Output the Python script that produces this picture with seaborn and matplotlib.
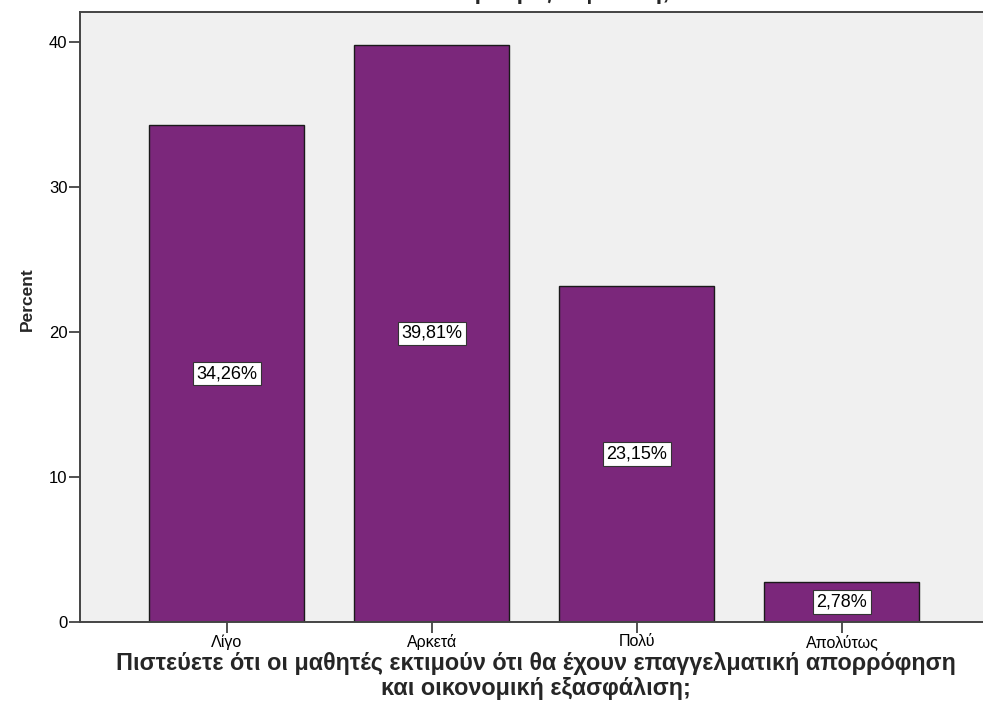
import matplotlib
matplotlib.use("Agg")
import matplotlib.pyplot as plt
import seaborn as sns
import pandas as pd

categories = ["Λίγο", "Αρκετά", "Πολύ", "Απολύτως"]
percent = [34.26, 39.81, 23.15, 2.78]
value_labels = ["34,26%", "39,81%", "23,15%", "2,78%"]
y_ticks = [0, 10, 20, 30, 40]
question = ("Πιστεύετε ότι οι μαθητές εκτιμούν ότι θα έχουν επαγγελματική απορρόφηση\n"
            "και οικονομική εξασφάλιση;")

sns.set_theme(style="white")
plt.rcParams["font.family"] = ["Liberation Sans", "DejaVu Sans"]

df = pd.DataFrame({"category": categories, "percent": percent})

fig = plt.figure(figsize=(9.83, 7.2), dpi=100)
ax = fig.add_axes([80 / 983, 1 - 622 / 720, 903 / 983, (622 - 12) / 720])
ax.set_facecolor("#F0F0F0")

sns.barplot(data=df, x="category", y="percent", order=categories,
            color="#7B277B", saturation=1, width=0.756,
            edgecolor="#1a1a1a", linewidth=1.0, ax=ax)

for i, (v, lab) in enumerate(zip(percent, value_labels)):
    ax.text(i, v / 2, lab, ha="center", va="center", fontsize=13, color="black",
            bbox=dict(boxstyle="square,pad=0.18", facecolor="white",
                      edgecolor="#333333", linewidth=0.8))

ax.set_xlim(-0.717, 3.688)
ax.set_ylim(0, (622 - 12) / 14.5)
ax.set_yticks(y_ticks)
ax.set_yticklabels([str(t) for t in y_ticks])

ax.tick_params(axis="both", which="both", direction="out", width=1.2,
               color="#333333", labelcolor="black", length=8)
ax.tick_params(axis="x", bottom=True, labelsize=11.5, pad=1)
ax.tick_params(axis="y", left=True, labelsize=12, pad=1)

for side in ["left", "bottom", "top"]:
    ax.spines[side].set_color("#444444")
    ax.spines[side].set_linewidth(1.4)
ax.spines["right"].set_visible(False)

ax.set_ylabel("Percent", fontsize=12.5, fontweight="bold")
ax.yaxis.set_label_coords(-0.0498, 0.5295)
ax.set_xlabel(question, fontsize=16.8, fontweight="bold", linespacing=1.1)
ax.xaxis.set_label_coords(0.505, -0.049)

# Chart title sits at the very top edge; only its lower part falls inside the canvas
fig.text(0.524, 1 + 1 / 720, question, ha="center", va="baseline",
         fontsize=16.8, fontweight="bold", linespacing=1.1)

fig.savefig("out.png", dpi=100, facecolor="white")
